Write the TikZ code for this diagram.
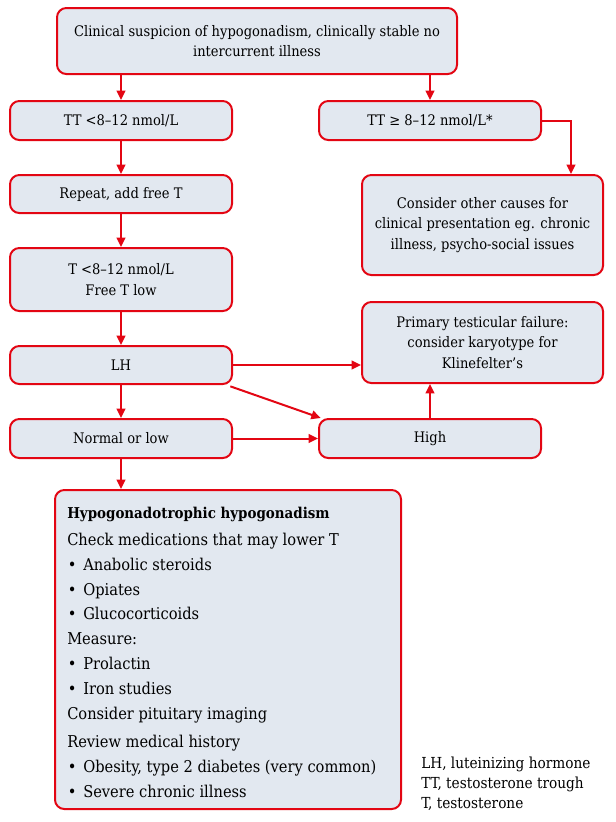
\documentclass[tikz,border=0pt]{standalone}
\usepackage{fontspec}
\setmainfont{DejaVu Serif Condensed}
\usetikzlibrary{arrows.meta}
\definecolor{boxred}{HTML}{E30613}
\definecolor{boxfill}{HTML}{E2E8F0}
\newcommand\bul{\makebox[12pt][l]{\hspace{0.5pt}•}}
\begin{document}
\begin{tikzpicture}[x=0.75pt,y=-0.75pt,
  box/.style={draw=boxred, fill=boxfill, line width=1.5pt, rounded corners=7pt,
    align=center, inner sep=0pt, font=\fontsize{10.9}{15.5}\selectfont},
  arr/.style={draw=boxred, line width=1.5pt, -{Triangle[length=7pt,width=6.5pt]}},
  txt/.style={inner sep=0pt, align=left}]
\useasboundingbox (0,0) rectangle (615,822);
\node[box, minimum width=300pt, minimum height=49.5pt] (top) at (257,41)
  {Clinical suspicion of hypogonadism, clinically stable no\\intercurrent illness};
\node[box, minimum width=166.5pt, minimum height=29.25pt] (TTl) at (121,120.5) {TT <8–12 nmol/L};
\node[box, minimum width=166.5pt, minimum height=29.25pt] (TTh) at (430,120.5) {TT ≥ 8–12 nmol/L*};
\node[box, minimum width=166.5pt, minimum height=28.5pt] (rep) at (121,194) {Repeat, add free T};
\node[box, minimum width=180.75pt, minimum height=75pt] (other) at (482.5,225)
  {Consider other causes for\\clinical presentation eg. chronic\\illness, psycho-social issues};
\node[box, minimum width=166.5pt, minimum height=47.25pt] (tbox) at (121,279.5) {T <8–12 nmol/L\\Free T low};
\node[box, minimum width=180.75pt, minimum height=60.75pt] (prim) at (482.5,342.5)
  {Primary testicular failure:\\consider karyotype for\\Klinefelter’s};
\node[box, minimum width=166.5pt, minimum height=28.5pt] (LH) at (121,365) {LH};
\node[box, minimum width=166.5pt, minimum height=29.25pt] (norm) at (121,438.5) {Normal or low};
\node[box, minimum width=166.5pt, minimum height=29.25pt] (high) at (430,438.5) {High};
\node[box, minimum width=259.5pt, minimum height=239.25pt] (hypo) at (228,649.5) {};
\node[txt, anchor=north west, font=\fontsize{12.2}{18.6}\selectfont] (hypotext) at (67,506.5)
  {{\fontsize{11.2}{18.6}\selectfont\textbf{Hypogonadotrophic hypogonadism}}\\[2pt]
   Check medications that may lower T\\
   \bul Anabolic steroids\\
   \bul Opiates\\
   \bul Glucocorticoids\\
   Measure:\\
   \bul Prolactin\\
   \bul Iron studies\\
   Consider pituitary imaging\\[3pt]
   Review medical history\\
   \bul Obesity, type 2 diabetes (very common)\\
   \bul Severe chronic illness};
\node[txt, anchor=north west, font=\fontsize{11.4}{15}\selectfont] (legend) at (421,756.5)
  {LH, luteinizing hormone\\TT, testosterone trough\\T, testosterone};
\coordinate (c1) at (571,120.5);
\draw[arr] (TTl.north |- top.south) -- (TTl.north);
\draw[arr] (TTh.north |- top.south) -- (TTh.north);
\draw[arr] (TTh.east) -- (c1) -- (c1 |- other.north);
\draw[arr] (TTl.south) -- (rep.north);
\draw[arr] (rep.south) -- (tbox.north);
\draw[arr] (tbox.south) -- (LH.north);
\draw[arr] (LH.east) -- (LH.east -| prim.west);
\draw[arr] ([xshift=-2pt,yshift=-1pt]LH.south east) -- ([xshift=2pt]high.north west);
\draw[arr] (LH.south) -- (norm.north);
\draw[arr] (norm.east) -- (high.west);
\draw[arr] (high.north) -- (high.north |- prim.south);
\draw[arr] (norm.south) -- (norm.south |- hypo.north);
\end{tikzpicture}
\end{document}
